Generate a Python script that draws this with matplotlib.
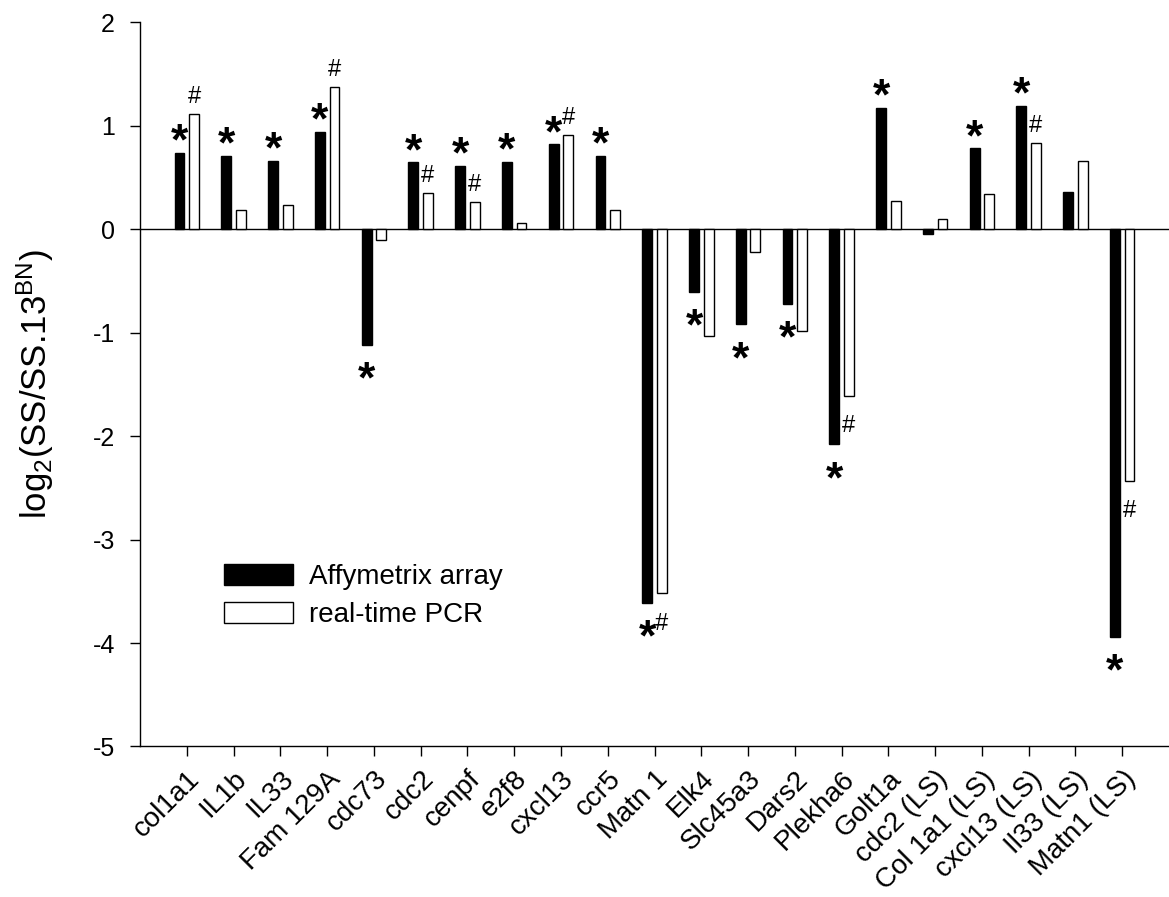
import matplotlib
matplotlib.use("Agg")
import matplotlib.pyplot as plt
import numpy as np

plt.rcParams['font.family'] = ['Liberation Sans', 'DejaVu Sans']
plt.rcParams['mathtext.default'] = 'regular'
plt.rcParams['axes.unicode_minus'] = False

# 基因名稱
genes = ["col1a1", "IL1b", "IL33", "Fam 129A", "cdc73", "cdc2", "cenpf", "e2f8",
         "cxcl13", "ccr5", "Matn 1", "Elk4", "Slc45a3", "Dars2", "Plekha6",
         "Golt1a", "cdc2 (LS)", "Col 1a1 (LS)", "cxcl13 (LS)", "Il33 (LS)",
         "Matn1 (LS)"]

# log2 比值 (讀圖估計)
affy = [0.74, 0.71, 0.66, 0.94, -1.12, 0.645, 0.61, 0.65, 0.82, 0.71, -3.61,
        -0.61, -0.92, -0.72, -2.08, 1.17, -0.05, 0.78, 1.19, 0.36, -3.94]
pcr = [1.11, 0.19, 0.23, 1.37, -0.10, 0.35, 0.26, 0.06, 0.91, 0.19, -3.52,
       -1.03, -0.22, -0.98, -1.61, 0.27, 0.10, 0.34, 0.835, 0.66, -2.43]

# 顯著性標記: * = array, # = PCR
star = [1, 1, 1, 1, 1, 1, 1, 1, 1, 1, 1, 1, 1, 1, 1, 1, 0, 1, 1, 0, 1]
hash_mark = [1, 0, 0, 1, 0, 1, 1, 0, 1, 0, 1, 0, 0, 0, 1, 0, 0, 0, 1, 0, 1]

W = 0.21
OFF = 0.156
STAR_FS = 32
HASH_FS = 17

fig = plt.figure(figsize=(11.69, 8.97), dpi=100)
ax = fig.add_axes([0.1198, 0.1678, 0.8802, 0.8074])

x = np.arange(len(genes))
ax.bar(x - OFF, affy, W, color='black', edgecolor='black', linewidth=1.0,
       label='Affymetrix array', zorder=3)
ax.bar(x + OFF, pcr, W, color='white', edgecolor='black', linewidth=1.0,
       label='real-time PCR', zorder=3)
ax.axhline(0, color='black', linewidth=1.0, zorder=2)

# 星號與井號 (offset points, baseline)
for i in range(len(genes)):
    if star[i]:
        v = affy[i]
        dy = 17 - 0.57 * STAR_FS if v > 0 else -16 - 0.57 * STAR_FS
        ax.annotate('*', xy=(x[i] - OFF, v), xytext=(0, dy),
                    textcoords='offset points', ha='center', va='baseline',
                    fontsize=STAR_FS, fontweight='bold', zorder=4)
    if hash_mark[i]:
        v = pcr[i]
        dy = 14 - 0.36 * HASH_FS if v > 0 else -20 - 0.36 * HASH_FS
        ax.annotate('#', xy=(x[i] + OFF, v), xytext=(0, dy),
                    textcoords='offset points', ha='center', va='baseline',
                    fontsize=HASH_FS, zorder=4)

ax.set_xlim(-1, 21)
ax.set_ylim(-5, 2)
ax.set_yticks(range(-5, 3))
ax.set_xticks(x)
ax.set_xticklabels(genes, rotation=45, ha='right', va='top',
                   rotation_mode='anchor', fontsize=20)
ax.tick_params(axis='y', direction='out', length=7, width=1.0, labelsize=18, pad=11)
ax.tick_params(axis='x', direction='out', length=7, width=1.0, pad=7)

for s in ['top', 'right']:
    ax.spines[s].set_visible(False)
for s in ['left', 'bottom']:
    ax.spines[s].set_linewidth(1.0)

ax.set_ylabel('log$_2$(SS/SS.13$^{BN}$)', fontsize=25)
ax.yaxis.set_label_coords(-0.082, 0.5)

ax.legend(loc='upper left', bbox_to_anchor=(0.0816, 0.252), frameon=False,
          fontsize=20, handlelength=2.5, handleheight=0.8, handletextpad=0.55,
          labelspacing=0.42, borderpad=0, borderaxespad=0)

fig.savefig('out.png', dpi=100)
